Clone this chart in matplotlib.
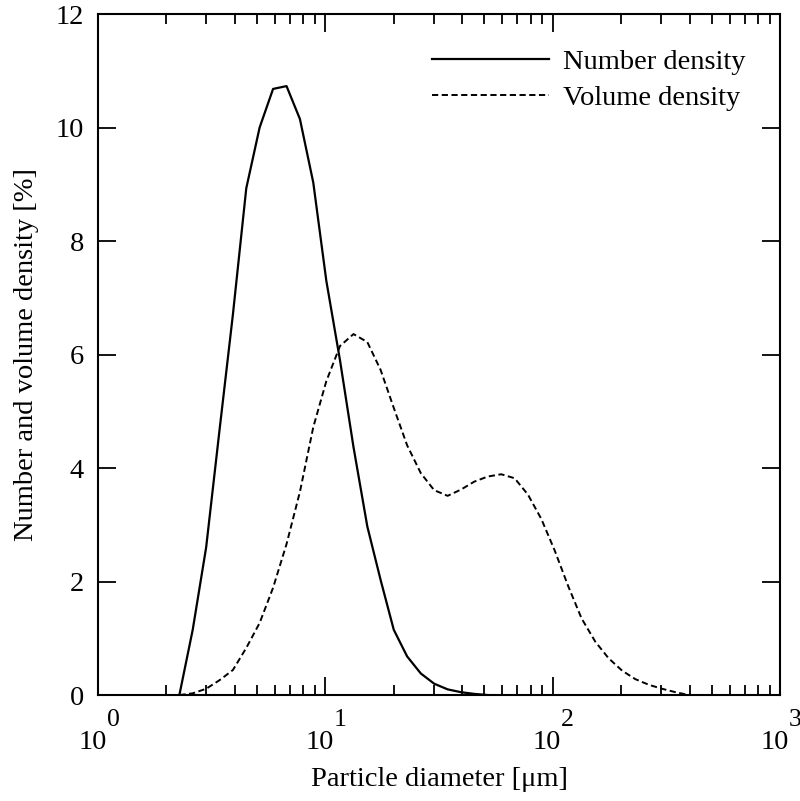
import numpy as np
import matplotlib
matplotlib.use("Agg")
import matplotlib.pyplot as plt

plt.rcParams['font.family'] = ['Liberation Serif', 'DejaVu Serif']

# particle diameter bins [um]
diameter = [2.28, 2.61, 2.99, 3.42, 3.92, 4.49, 5.14, 5.89, 6.75, 7.73,
            8.85, 10.1, 11.6, 13.3, 15.3, 17.5, 20.0, 22.9, 26.3, 30.1,
            34.5, 39.5, 45.2, 51.8, 59.4, 68.0, 77.9, 89.2, 102, 117,
            134, 154, 176, 202, 231, 265, 303, 347, 398]

# number density [%] (first 24 bins, zero afterwards)
number_density = [0.0, 1.15, 2.6, 4.65, 6.7, 8.93, 10.0, 10.68, 10.73, 10.15,
                  9.03, 7.3, 5.9, 4.37, 2.97, 2.03, 1.15, 0.68, 0.38, 0.2,
                  0.1, 0.05, 0.02, 0.0]

# volume density [%]
volume_density = [0.0, 0.03, 0.11, 0.26, 0.44, 0.83, 1.27, 1.89, 2.66, 3.58,
                  4.72, 5.53, 6.15, 6.36, 6.22, 5.73, 5.06, 4.4, 3.91, 3.61,
                  3.51, 3.62, 3.76, 3.85, 3.89, 3.82, 3.53, 3.10, 2.55, 1.92,
                  1.35, 0.94, 0.65, 0.43, 0.28, 0.18, 0.11, 0.05, 0.0]

x_exponents = [0, 1, 2, 3]

fs = 20.5
fig = plt.figure(figsize=(8, 8.01), dpi=100)
ax = fig.add_axes([0.1225, 0.1323, 0.8525, 0.8502])

ax.plot(diameter[:len(number_density)], number_density, color='black', lw=1.6,
        label='Number density')
ax.plot(diameter, volume_density, color='black', lw=1.4, dashes=(3.2, 1.8),
        label='Volume density')

ax.set_xscale('log')
ax.set_xlim(1, 1000)
ax.set_ylim(0, 12)
ax.set_yticks(np.arange(0, 13, 2))

for s in ax.spines.values():
    s.set_linewidth(1.5)
ax.tick_params(which='both', direction='in', top=True, right=True, width=1.3)
ax.tick_params(which='major', length=13, labelsize=fs, pad=10)
ax.tick_params(which='minor', length=7)
ax.tick_params(axis='y', which='minor', left=False, right=False)

# x tick labels drawn as "10" with a raised exponent
ax.set_xticks([10 ** e for e in x_exponents])
ax.set_xticklabels([])
for e in x_exponents:
    ax.annotate('10', xy=(10 ** e, 0), xycoords=ax.get_xaxis_transform(),
                xytext=(-5.5, -47), textcoords='offset pixels',
                ha='center', va='center', fontsize=fs)
    ax.annotate(str(e), xy=(10 ** e, 0), xycoords=ax.get_xaxis_transform(),
                xytext=(8.5, -25), textcoords='offset pixels',
                ha='left', va='center', fontsize=18.5)

ax.set_xlabel('Particle diameter [\u03bcm]', fontsize=fs, labelpad=42)
ax.set_ylabel('Number and volume density [%]', fontsize=fs, labelpad=12)

ax.legend(loc='upper right', frameon=False, fontsize=fs, handlelength=4.1,
          handletextpad=0.5, labelspacing=0.38, borderaxespad=0.82)

fig.savefig('out.png', dpi=100)
